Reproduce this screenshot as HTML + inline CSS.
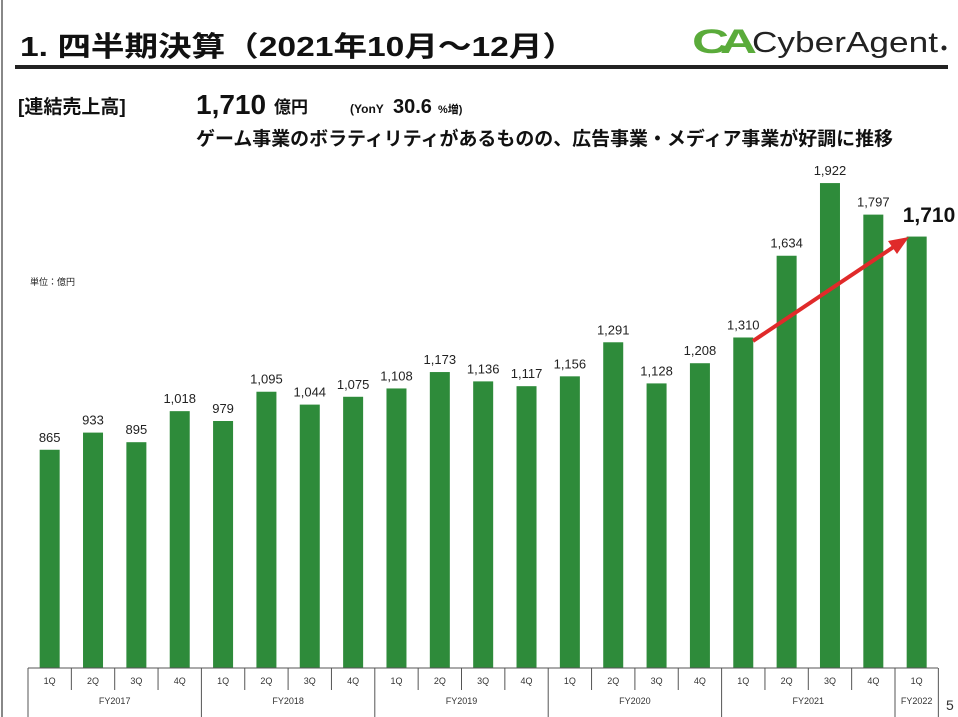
<!DOCTYPE html>
<html><head><meta charset="utf-8"><style>
body{margin:0;background:#fff;}
svg{display:block;font-family:"Liberation Sans","Noto Sans CJK JP",sans-serif;}
</style></head><body>
<svg width="958" height="717" viewBox="0 0 958 717" xmlns="http://www.w3.org/2000/svg">
<rect width="958" height="717" fill="#fff"/>
<line x1="2" y1="0" x2="2" y2="717" stroke="#888" stroke-width="2"/>
<text x="20" y="56" font-size="28" font-weight="bold" fill="#111" textLength="556" lengthAdjust="spacingAndGlyphs">1. 四半期決算（2021年10月～12月）</text>
<rect x="15" y="65" width="933" height="4" fill="#222"/>
<!-- logo -->
<text x="692" y="53" font-size="34" font-weight="bold" fill="#5aab3a" letter-spacing="-6" textLength="56" lengthAdjust="spacingAndGlyphs">CA</text>
<text x="752" y="52" font-size="29" fill="#222" textLength="186" lengthAdjust="spacingAndGlyphs">CyberAgent</text>
<circle cx="944" cy="48" r="2.5" fill="#222"/>
<text x="18" y="113" font-size="19" font-weight="bold" fill="#111">[連結売上高]</text>
<text x="196" y="114" font-size="28" font-weight="bold" fill="#111">1,710</text>
<text x="274" y="113" font-size="17" font-weight="bold" fill="#111">億円</text>
<text x="350" y="113" font-size="12" font-weight="bold" fill="#111">(YonY</text>
<text x="393" y="113" font-size="20" font-weight="bold" fill="#111">30.6</text>
<text x="438" y="113" font-size="11" font-weight="bold" fill="#111">%増)</text>
<text x="196" y="145" font-size="19" font-weight="bold" fill="#111" textLength="697" lengthAdjust="spacingAndGlyphs">ゲーム事業のボラティリティがあるものの、広告事業・メディア事業が好調に推移</text>
<text x="30" y="285" font-size="9" fill="#222">単位：億円</text>
<g id="bars"></g>
<line x1="28" y1="668" x2="28" y2="717" stroke="#555"/>
<line x1="28" y1="668" x2="938" y2="668" stroke="#555"/>
<g id="ax" font-size="9" fill="#333" text-anchor="middle"></g>
<line x1="753" y1="341" x2="895" y2="246" stroke="#e02a2a" stroke-width="4"/>
<polygon points="909,237 888,241 897,254" fill="#e02a2a"/>
<text x="946" y="710" font-size="14" fill="#333">5</text>
</svg>
<script>
var v=[865,933,895,1018,979,1095,1044,1075,1108,1173,1136,1117,1156,1291,1128,1208,1310,1634,1922,1797,1710];
var ns="http://www.w3.org/2000/svg",g=document.getElementById('bars'),ax=document.getElementById('ax');
function el(t,a,p,txt){var e=document.createElementNS(ns,t);for(var k in a)e.setAttribute(k,a[k]);if(txt)e.textContent=txt;p.appendChild(e);return e;}
var step=43.35,x0=28;
for(var i=0;i<21;i++){
 var c=x0+step*(i+0.5),h=v[i]*0.2523;
 el('rect',{x:c-10,y:668-h,width:20,height:h,fill:'#2e8b3a'},g);
 var s=v[i].toLocaleString('en-US');
 if(i<20) el('text',{x:c,y:668-h-8,'font-size':13,fill:'#222','text-anchor':'middle'},g,s);
 el('text',{x:c,y:684},ax,(i%4+1)+'Q');
 el('line',{x1:x0+step*(i+1),y1:668,x2:x0+step*(i+1),y2:(i%4==3||i==20)?717:690,stroke:'#555'},ax.parentNode);
}
el('text',{x:929,y:222,'font-size':21,'font-weight':'bold',fill:'#111','text-anchor':'middle'},g,'1,710');
var fy=['FY2017','FY2018','FY2019','FY2020','FY2021'];
for(var j=0;j<5;j++) el('text',{x:x0+step*(j*4+2),y:704},ax,fy[j]);
el('text',{x:x0+step*20.5,y:704},ax,'FY2022');
</script>
</body></html>
